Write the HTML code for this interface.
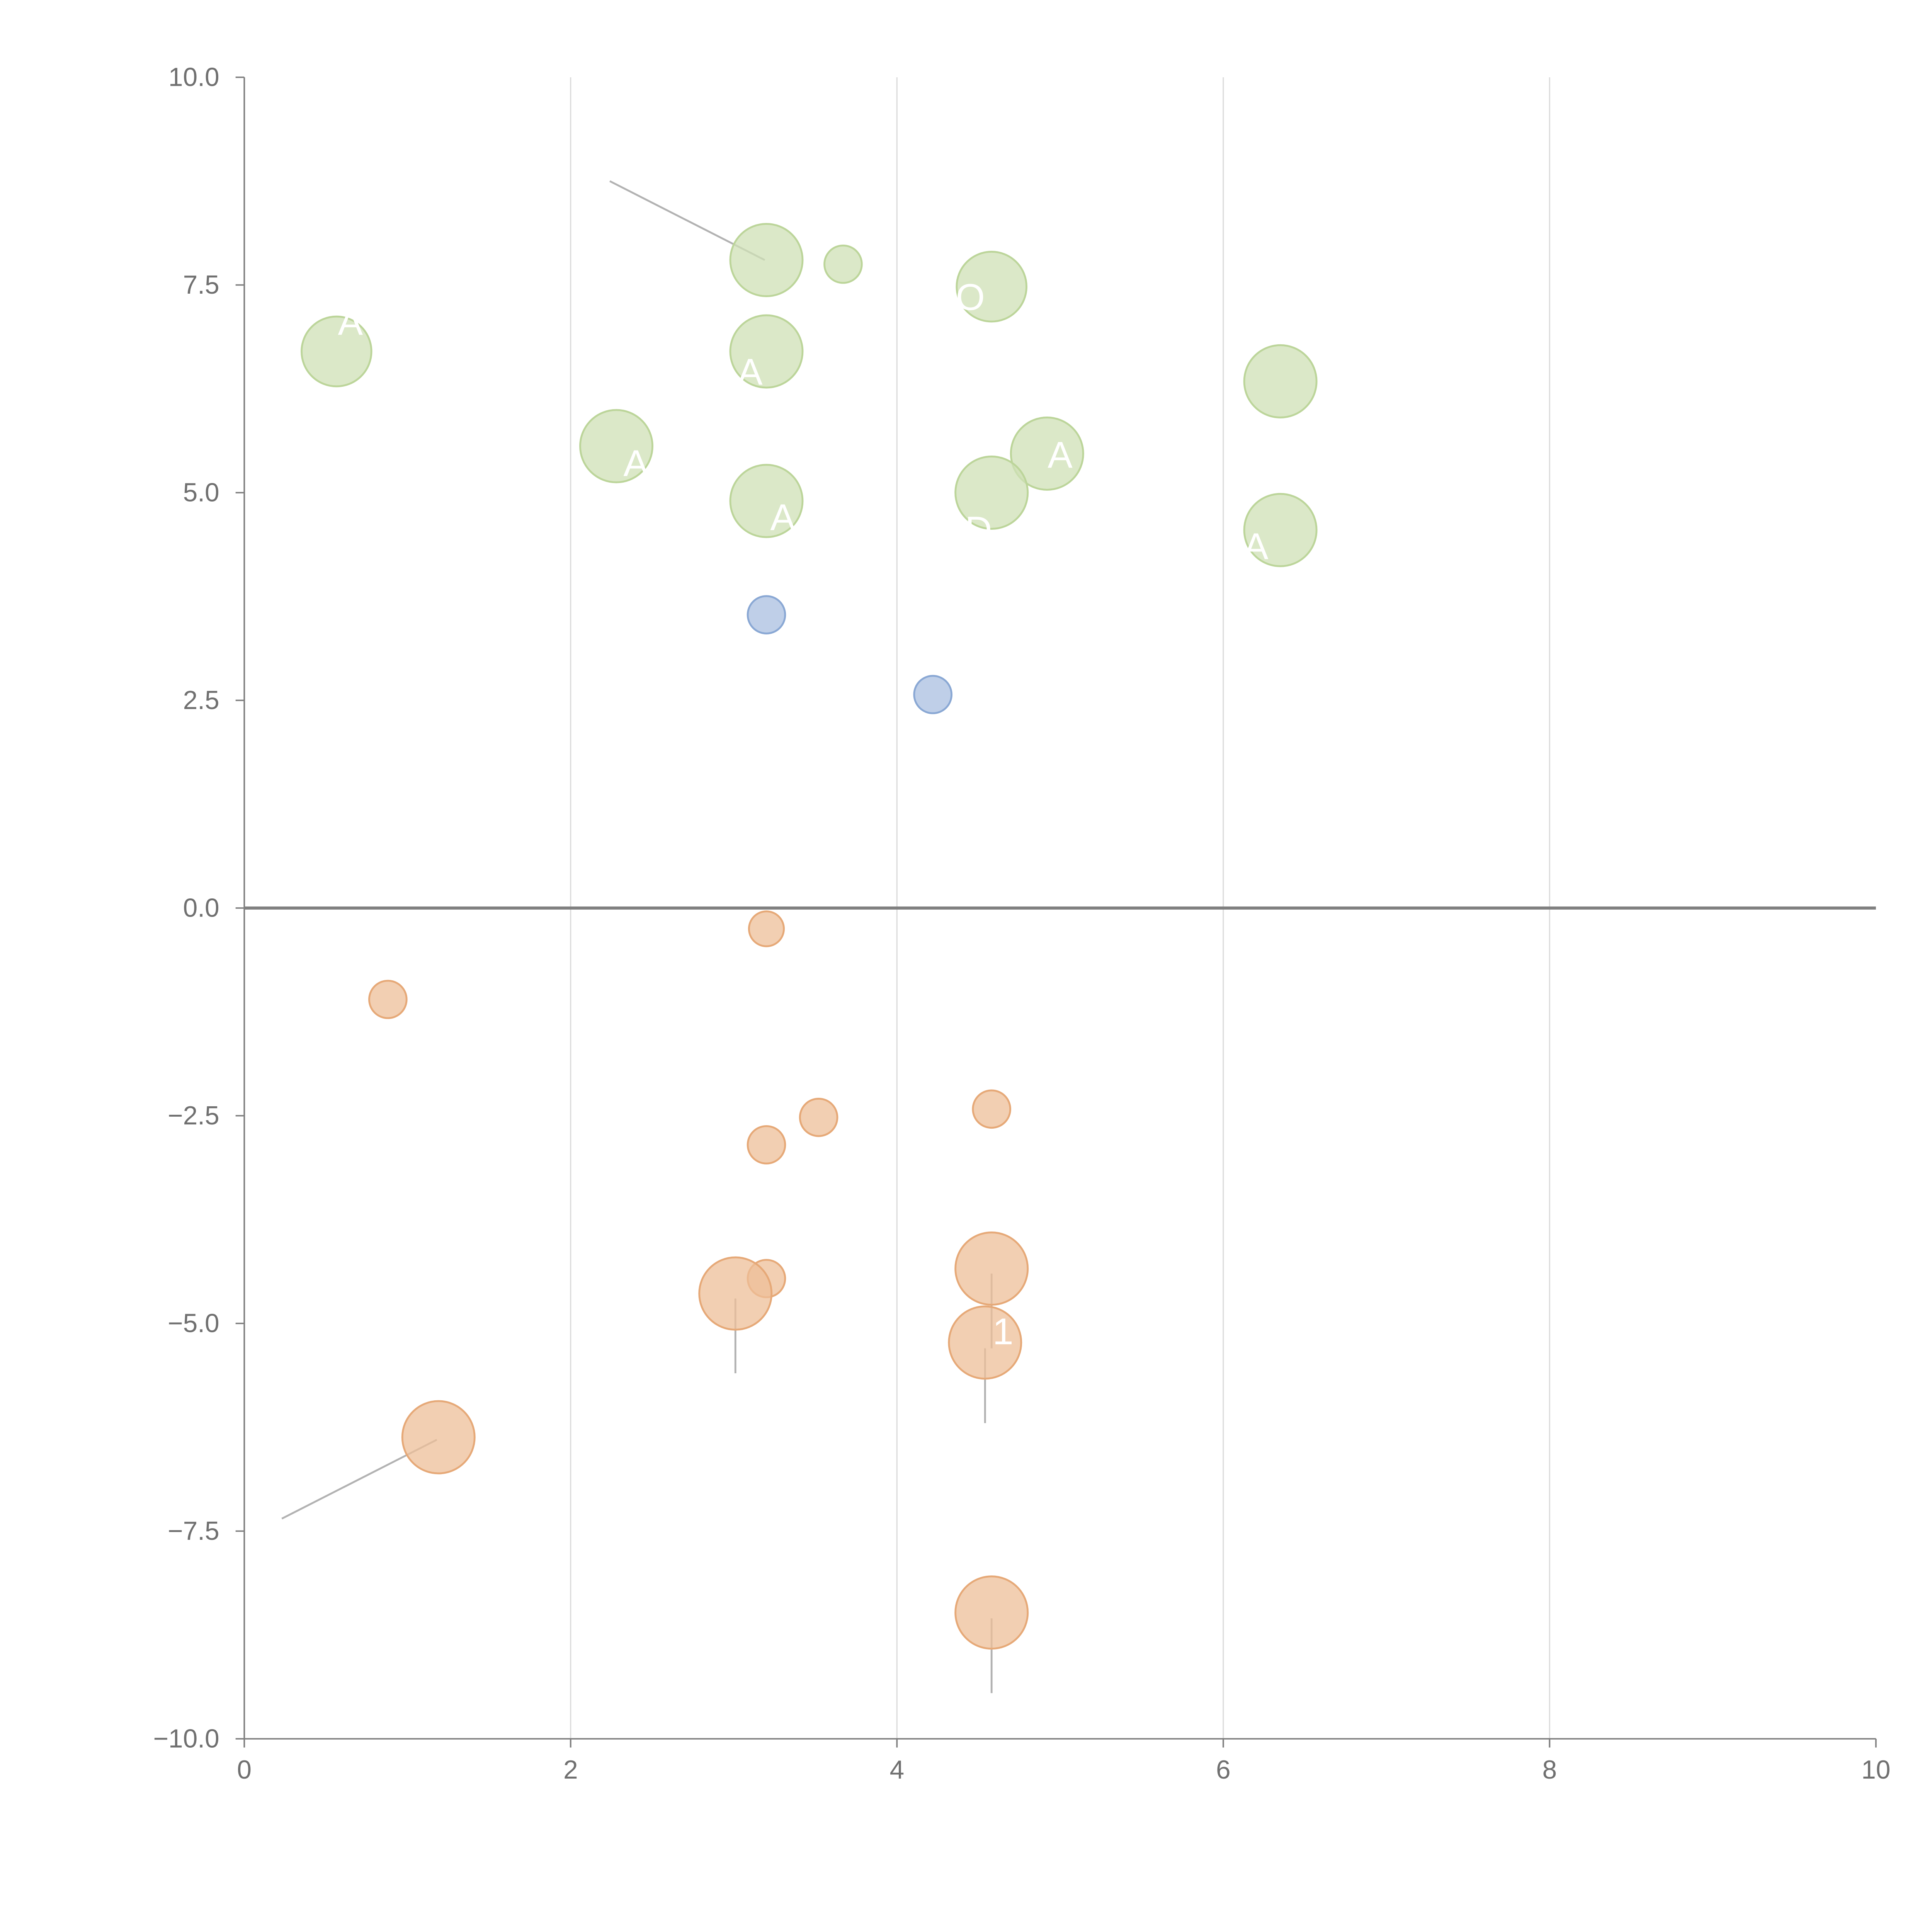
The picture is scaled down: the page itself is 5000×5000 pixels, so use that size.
<!DOCTYPE html>
<html><head><meta charset="utf-8">
<style>
html,body{margin:0;padding:0;background:#fff;}
svg{display:block;}
text{font-family:"Liberation Sans",sans-serif;}
</style></head>
<body>
<svg id="chart" width="5000" height="5000" viewBox="0 0 1550 1550" xmlns="http://www.w3.org/2000/svg">
<g id="grid"></g>
<g id="axes"></g>
<g id="leaders"></g>
<g id="marks"></g>
<g id="labels"></g>
</svg>
<script>
const xTicks = [0, 2, 4, 6, 8, 10];
const yTicks = [10, 7.5, 5, 2.5, 0, -2.5, -5, -7.5, -10];
const greenX = [0.565, 3.2, 3.67, 4.58, 3.2, 2.28, 6.35, 4.92, 3.2, 4.58, 6.35];
const greenY = [6.7, 7.8, 7.75, 7.48, 6.7, 5.56, 6.34, 5.47, 4.9, 5.0, 4.55];
const greenR = [28, 29, 15, 28, 29, 29, 29, 29, 29, 29, 29];
const blueX = [3.2, 4.22];
const blueY = [3.53, 2.57];
const blueR = [15, 15];
const orangeX = [3.2, 0.88, 4.58, 3.52, 3.2, 3.2, 4.58, 3.01, 4.54, 1.19, 4.58];
const orangeY = [-0.25, -1.1, -2.42, -2.52, -2.85, -4.46, -4.34, -4.64, -5.23, -6.37, -8.48];
const orangeR = [14, 15, 15, 15, 15, 15, 29, 29, 29, 29, 29];
const leaderX1 = [2.24, 0.23, 3.01, 4.58, 4.54, 4.58];
const leaderY1 = [8.75, -7.35, -4.7, -4.4, -5.3, -8.55];
const leaderX2 = [3.19, 1.18, 3.01, 4.58, 4.54, 4.58];
const leaderY2 = [7.8, -6.4, -5.6, -5.3, -6.2, -9.45];
const labelX = [0.65, 3.1, 4.45, 6.1, 2.4, 5.0, 3.3, 4.5, 6.2, 4.65];
const labelY = [6.9, 6.3, 7.2, 6.6, 5.2, 5.3, 4.55, 4.4, 4.2, -5.25];
const labelText = ["A", "A", "O", "o", "A", "A", "A", "D", "A", "1"];

const L=196,R=1505,T=62,B=1395;
const sx = v => L + (v - 0) / 10 * (R - L);
const sy = v => B - (v + 10) / 20 * (B - T);
const NS="http://www.w3.org/2000/svg";
function mk(tag, parent, attrs){const e=document.createElementNS(NS,tag);for(const k in attrs)e.setAttribute(k,attrs[k]);parent.appendChild(e);return e;}
const grid=document.getElementById('grid'), axes=document.getElementById('axes');
const marks=document.getElementById('marks'), leaders=document.getElementById('leaders'), labels=document.getElementById('labels');

xTicks.forEach(t=>{
  if(t>0&&t<10){const g=mk('line',grid,{x1:sx(t),x2:sx(t),y1:T,y2:B,stroke:'#dcdcdc','stroke-width':1});
  
  }
  const tk=mk('line',axes,{x1:sx(t),x2:sx(t),y1:B,y2:B+7,stroke:'#808080','stroke-width':1.2});
  
  
  const tx=mk('text',axes,{x:sx(t),y:B+32,'text-anchor':'middle','font-size':21,fill:'#707070'});
  tx.textContent=t;
  
  
});
yTicks.forEach(t=>{
  const tk=mk('line',axes,{x1:L-7,x2:L,y1:sy(t),y2:sy(t),stroke:'#808080','stroke-width':1.2});
  
  
  const tx=mk('text',axes,{x:L-20,y:sy(t)+7,'text-anchor':'end','font-size':21,fill:'#707070'});
  tx.textContent=(t<0?'\u2212':'')+Math.abs(t).toFixed(1);
  
  
});
const ya=mk('line',axes,{x1:L,x2:L,y1:T,y2:B,stroke:'#808080','stroke-width':1.2});


const xa=mk('line',axes,{x1:L,x2:R,y1:B,y2:B,stroke:'#808080','stroke-width':1.2});


const zl=mk('line',axes,{x1:L,x2:R,y1:sy(0),y2:sy(0),stroke:'#808080','stroke-width':2.5});



leaderX1.forEach((v,i)=>{
  const l=mk('line',leaders,{x1:sx(v),y1:sy(leaderY1[i]),x2:sx(leaderX2[i]),y2:sy(leaderY2[i]),stroke:'#a0a0a0','stroke-width':1.5,opacity:0.8});
  
  
});
function series(xs,ys,rs,fill,stroke,name){
  xs.forEach((v,i)=>{
    const c=mk('circle',marks,{cx:sx(v),cy:sy(ys[i]),r:rs[i],fill:fill,stroke:stroke,'stroke-width':1.5,'fill-opacity':0.75});
    
    
  });
}
series(greenX,greenY,greenR,'#cfe0b5','#bcd59a','bubble-positive');
series(blueX,blueY,blueR,'#a9bfe0','#8aa8d4','bubble-neutral');
series(orangeX,orangeY,orangeR,'#eebf98','#e6a978','bubble-negative');
labelX.forEach((v,i)=>{
  const t=mk('text',labels,{x:sx(v),y:sy(labelY[i]),'font-size':30,fill:'#ffffff','text-anchor':'middle'});
  t.textContent=labelText[i];
  
  
});
</script>
</body></html>
